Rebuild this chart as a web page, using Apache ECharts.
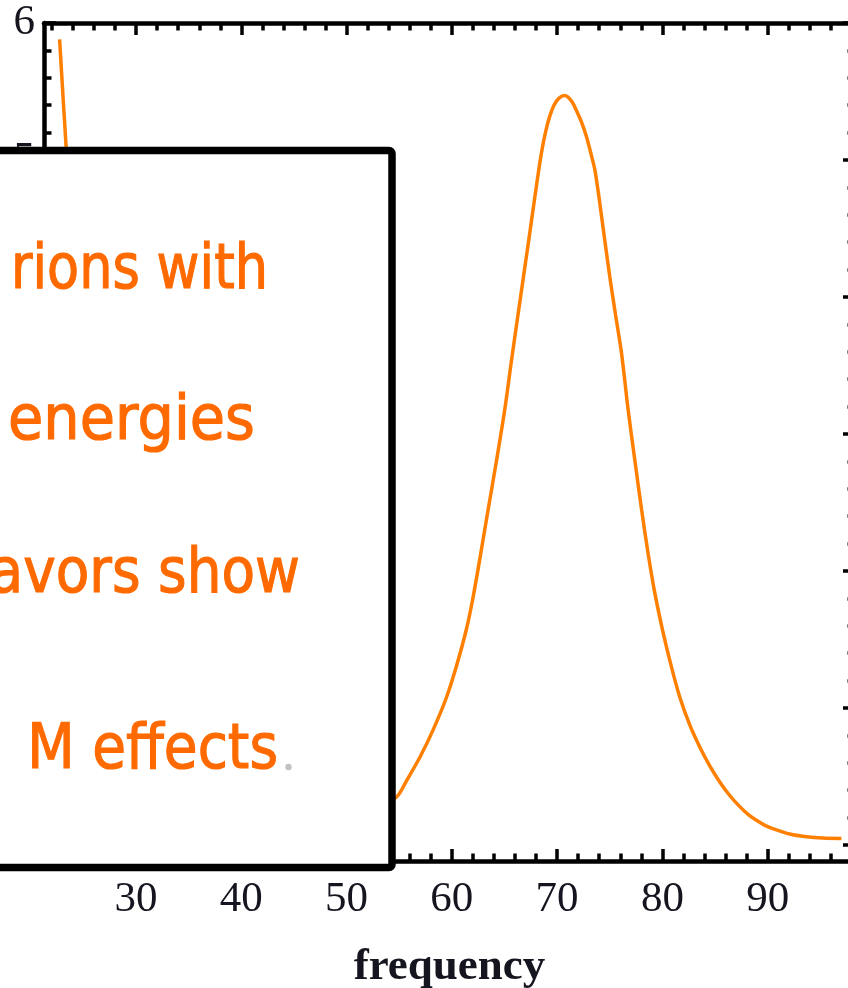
<!DOCTYPE html>
<html>
<head>
<meta charset="utf-8">
<script src="https://cdn.jsdelivr.net/npm/echarts@6/dist/echarts.min.js"></script>
<style>
  html, body { margin: 0; padding: 0; background: #fff; }
  #chart { width: 848px; height: 988px; }
</style>
</head>
<body>
<div id="chart"></div>
<script>
// Resonance curve: amplitude against driving frequency
const frequency = [22.73, 23.34, 24.0, 25.0, 26.0, 27.5, 29.0, 31.0, 33.0, 36.0, 40.0, 44.0, 48.0, 51.0, 53.0,
  54.75, 55.70, 56.96, 58.22, 59.50, 60.45, 61.40, 62.02, 62.66, 63.45, 64.25, 65.03, 65.67, 66.45, 66.94,
  67.35, 67.81, 68.26, 68.60, 68.95, 69.30, 69.70, 70.16, 70.73, 71.37, 71.84, 72.30, 72.79, 73.20, 73.58,
  74.01, 74.48, 75.00, 75.53, 76.12, 76.74, 77.38, 78.02, 78.64, 79.28, 80.07, 80.86, 81.65, 82.60, 83.55,
  84.50, 85.45, 86.40, 87.35, 88.20, 88.94, 89.70, 90.48, 92.10, 93.68, 95.23, 97.01];
const amplitude = [5.88, 5.11, 4.35, 3.45, 2.75, 2.00, 1.50, 1.05, 0.75, 0.48, 0.30, 0.22, 0.20, 0.23, 0.28,
  0.35, 0.47, 0.64, 0.84, 1.08, 1.31, 1.58, 1.81, 2.09, 2.45, 2.81, 3.18, 3.54, 3.96, 4.22,
  4.44, 4.69, 4.93, 5.09, 5.22, 5.32, 5.40, 5.45, 5.47, 5.43, 5.36, 5.28, 5.17, 5.05, 4.93,
  4.71, 4.44, 4.15, 3.88, 3.59, 3.18, 2.81, 2.45, 2.13, 1.84, 1.55, 1.30, 1.08, 0.876, 0.715,
  0.577, 0.46, 0.361, 0.28, 0.22, 0.18, 0.145, 0.12, 0.08, 0.06, 0.05, 0.047];

// Axis ticks
const xMajorTicks = [30, 40, 50, 60, 70, 80, 90];
const xMinorTicks = [22, 24, 26, 28, 32, 34, 36, 38, 42, 44, 46, 48, 52, 54, 56, 58, 62, 64, 66, 68,
  72, 74, 76, 78, 82, 84, 86, 88, 92, 94, 96, 98];
const yMajorTicks = [0, 1, 2, 3, 4, 5, 6];
const yMinorTicks = [0.2, 0.4, 0.6, 0.8, 1.2, 1.4, 1.6, 1.8, 2.2, 2.4, 2.6, 2.8, 3.2, 3.4, 3.6, 3.8,
  4.2, 4.4, 4.6, 4.8, 5.2, 5.4, 5.6, 5.8];

// Caption lines in the overlay box
const captionLines = ['rions with', 'energies', 'avors show', 'M effects'];

const X_MIN = 21.25, X_MAX = 98.3, Y_MIN = -0.117, Y_MAX = 6.0;
const INK = '#15151f';
const FRAME_W = 4.5, TICK_W = 3.5, MAJOR_LEN = 12, MINOR_LEN = 7.5;
const labelFont = { fontFamily: 'Liberation Serif', fontSize: 43, color: INK };

function xAxisDef(pos, ticks, len, withLine, withLabels) {
  return {
    type: 'value', position: pos, min: X_MIN, max: X_MAX,
    axisLine: { show: withLine, onZero: false, lineStyle: { color: '#000', width: FRAME_W } },
    axisTick: { show: true, inside: true, length: len, customValues: ticks,
      lineStyle: { color: '#000', width: TICK_W } },
    axisLabel: withLabels ? Object.assign({ show: true, customValues: ticks, margin: 17 }, labelFont) : { show: false },
    splitLine: { show: false }
  };
}
function yAxisDef(pos, ticks, len, withLine, withLabels) {
  return {
    type: 'value', position: pos, min: Y_MIN, max: Y_MAX,
    axisLine: { show: withLine, onZero: false, lineStyle: { color: '#000', width: FRAME_W } },
    axisTick: { show: true, inside: true, length: len, customValues: ticks,
      lineStyle: { color: '#000', width: TICK_W } },
    axisLabel: withLabels ? Object.assign({ show: true, customValues: ticks, margin: 9, padding: [6, 0, 0, 0] }, labelFont) : { show: false },
    splitLine: { show: false }
  };
}

const xAxes = [
  xAxisDef('bottom', xMajorTicks, MAJOR_LEN, true, true),
  xAxisDef('bottom', xMinorTicks, MINOR_LEN, false, false),
  xAxisDef('top', xMajorTicks, MAJOR_LEN, true, false),
  xAxisDef('top', xMinorTicks, MINOR_LEN, false, false)
];
Object.assign(xAxes[0], {
  name: 'frequency', nameLocation: 'middle', nameGap: 84,
  nameTextStyle: { fontFamily: 'Liberation Serif', fontWeight: 'bold', fontSize: 45, color: INK }
});
const yAxes = [
  yAxisDef('left', yMajorTicks, MAJOR_LEN, true, true),
  yAxisDef('left', yMinorTicks, MINOR_LEN, false, false),
  yAxisDef('right', yMajorTicks, MAJOR_LEN, true, false),
  yAxisDef('right', yMinorTicks, MINOR_LEN, false, false)
];

// Overlay box with caption text
const CAPTION_FONT = 62;
const captionPlacement = [
  { right: 268, baseline: 289, scale: 0.847 },
  { right: 255, baseline: 440, scale: 0.925 },
  { right: 300, baseline: 593, scale: 0.886 },
  { right: 278, baseline: 769, scale: 0.886 }
];
const graphics = [{
  type: 'rect', z: 100,
  shape: { x: -20, y: 150.5, width: 412, height: 717, r: 3 },
  style: { fill: '#fff', stroke: '#000', lineWidth: 7.5 }
}];
captionLines.forEach(function (line, i) {
  const p = captionPlacement[i];
  graphics.push({
    type: 'text', z: 101, x: p.right, y: p.baseline + 14, scaleX: p.scale,
    style: {
      text: line, x: 0, y: 0, fill: '#ff6a00', stroke: '#ff6a00', lineWidth: 1.2,
      font: CAPTION_FONT + 'px "DejaVu Sans"',
      textAlign: 'right', textVerticalAlign: 'bottom'
    }
  });
});
graphics.push({
  type: 'circle', z: 101,
  shape: { cx: 288.5, cy: 767, r: 3.2 },
  style: { fill: '#c2c2c2' }
});

const chart = echarts.init(document.getElementById('chart'), null, { renderer: 'canvas' });
chart.setOption({
  animation: false,
  backgroundColor: '#fff',
  grid: { left: 44, top: 23, width: 811, height: 838, containLabel: false, outerBoundsMode: 'none' },
  xAxis: xAxes,
  yAxis: yAxes,
  series: [{
    type: 'line',
    xAxisIndex: 0, yAxisIndex: 0,
    data: frequency.map(function (f, i) { return [f, amplitude[i]]; }),
    showSymbol: false, smooth: 0.3,
    lineStyle: { color: '#ff7f00', width: 3.5 }
  }],
  graphic: graphics
});
</script>
</body>
</html>
